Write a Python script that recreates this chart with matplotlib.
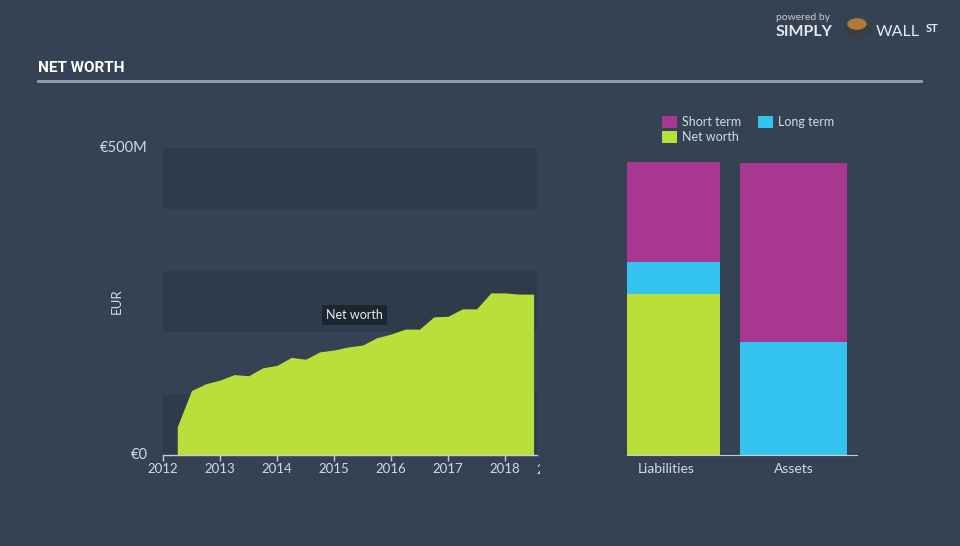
import matplotlib
matplotlib.use("Agg")
import matplotlib.pyplot as plt
from matplotlib.patches import Rectangle
from matplotlib.transforms import Bbox

# ---- data ----
years = [2012.25, 2012.5, 2012.75, 2013.0, 2013.25, 2013.5, 2013.75, 2014.0,
         2014.25, 2014.5, 2014.75, 2015.0, 2015.25, 2015.5, 2015.75, 2016.0,
         2016.25, 2016.5, 2016.75, 2017.0, 2017.25, 2017.5, 2017.75, 2018.0,
         2018.25, 2018.5]
net_worth = [46, 105, 116, 122, 131, 129, 142, 146,
             159, 156, 168, 171, 176, 179, 191, 197,
             205, 205, 225, 226, 238, 238, 264, 264,
             262, 262]  # EUR millions
x_ticks = [2012, 2013, 2014, 2015, 2016, 2017, 2018]
y_tick_labels = ["€0", "€500M"]

bar_categories = ["Liabilities", "Assets"]
short_term = [163, 292]
long_term = [52, 184]
net_worth_bar = [262, 0]

BG = "#344253"
BAND = "#2e3b4b"
GREEN = "#bbdf3a"
MAGENTA = "#a8378f"
CYAN = "#33c3ee"
TXT = "#d5dadf"
FONT = ["Lato", "DejaVu Sans"]

plt.rcParams["font.family"] = FONT

fig = plt.figure(figsize=(9.6, 5.46), dpi=100, facecolor=BG)

# ---- left: net worth history ----
ax = fig.add_axes([163/960, 1-455/546, 374/960, 307/546])
ax.set_facecolor(BG)
for lo in (0, 200, 400):
    ax.axhspan(lo, lo + 100, color=BAND, lw=0, zorder=0)
ax.fill_between(years, net_worth, 0, color=GREEN, lw=0, zorder=2)
for s in ("top", "right", "left"):
    ax.spines[s].set_visible(False)
ax.spines["bottom"].set_color("#c8cdd3")
ax.spines["bottom"].set_linewidth(1)
ax.set_xticks(x_ticks)
ax.set_xticklabels([str(t) for t in x_ticks], color=TXT, fontsize=9.5)
ax.tick_params(axis="x", colors="#c8cdd3", length=4, width=1, pad=2, labelcolor=TXT)
ax.set_xlim(2012, 2018.56)
ax.set_ylim(0, 500)
ax.set_yticks([])
ax.text(-0.04, 0, y_tick_labels[0], transform=ax.get_yaxis_transform(), ha="right",
        va="center", color=TXT, fontsize=10.5)
ax.text(-0.04, 500, y_tick_labels[1], transform=ax.get_yaxis_transform(), ha="right",
        va="center", color=TXT, fontsize=10.5)
ax.text(-0.125, 0.5, "EUR", transform=ax.transAxes, rotation=90, ha="center",
        va="center", color=TXT, fontsize=9.5)
ax.text(2015.36, 228, "Net worth", ha="center", va="center", color="#e8ebee",
        fontsize=9, zorder=5,
        bbox=dict(boxstyle="square,pad=0.35", fc="#1d2531", ec="none"))
# clipped trailing tick label at the axis end
t = fig.text(536/960, 1-470/546, "2019", color=TXT, fontsize=9.5, ha="left", va="center")
t.set_clip_box(Bbox([[535, 0], [540, 546]]))
t.set_clip_on(True)

# ---- right: balance bars ----
bx = fig.add_axes([627/960, 1-455/546, 230/960, 307/546])
bx.set_facecolor(BG)
centers = [0, 1]
widths = [0.775, 0.89]
lt_bottom = list(net_worth_bar)
st_bottom = [a + b for a, b in zip(net_worth_bar, long_term)]
bx.bar(centers, net_worth_bar, width=widths, color=GREEN, lw=0, label="Net worth")
bx.bar(centers, long_term, width=widths, bottom=lt_bottom, color=CYAN, lw=0, label="Long term")
bx.bar(centers, short_term, width=widths, bottom=st_bottom, color=MAGENTA, lw=0, label="Short term")
for s in ("top", "right", "left"):
    bx.spines[s].set_visible(False)
bx.spines["bottom"].set_color("#c8cdd3")
bx.set_yticks([])
bx.set_xticks([-0.0625, 1.0])
bx.set_xticklabels(bar_categories, color=TXT, fontsize=10)
bx.tick_params(axis="x", length=0, pad=6)
bx.set_xlim(-0.3875, 1.529)
bx.set_ylim(0, 500)

# legend
def legend_item(x, y, color, label):
    fig.patches.append(Rectangle((x/960, 1-(y+6)/546), 15/960, 12/546,
                                 transform=fig.transFigure, color=color, lw=0))
    fig.text((x+20)/960, 1-y/546, label, color=TXT, fontsize=9, va="center", ha="left")

legend_item(662, 122, MAGENTA, "Short term")
legend_item(758, 122, CYAN, "Long term")
legend_item(662, 137, GREEN, "Net worth")

# title and rule
fig.text(38/960, 1-68/546, "NET WORTH", color="white", fontsize=11, fontweight="bold",
         va="center", ha="left", family=["Roboto", "DejaVu Sans"])
fig.add_artist(plt.Line2D([38/960, 921/960], [1-81/546, 1-81/546], color="#9aa3ad", lw=2))

# logo
fig.text(776/960, 1-18/546, "powered by", color="#c8cdd3", fontsize=7.5, va="center", ha="left")
fig.text(776/960, 1-32/546, "SIMPLY", color="#e6e9ec", fontsize=11.5, fontweight="bold",
         va="center", ha="left")
fig.patches.append(plt.Circle((857/960, 1-30/546), 13/960, transform=fig.transFigure,
                              color="#3a3d42", zorder=3))
fig.patches.append(plt.Circle((857/960, 1-24/546), 9/960, transform=fig.transFigure,
                              color="#b07a35", zorder=4))
fig.text(876/960, 1-32/546, "WALL", color="#e6e9ec", fontsize=11.5, va="center", ha="left")
fig.text(926/960, 1-29/546, "ST", color="#e6e9ec", fontsize=8, fontweight="bold",
         va="center", ha="left")

fig.savefig("out.png", dpi=100, facecolor=BG)
